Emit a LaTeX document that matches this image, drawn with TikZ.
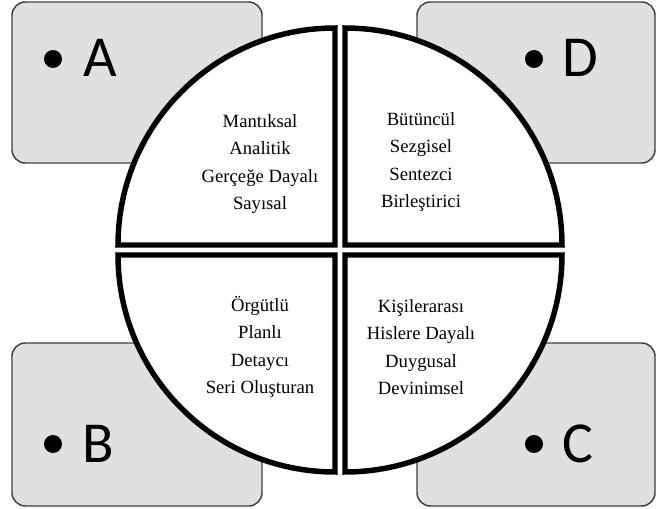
\documentclass[tikz,border=0pt]{standalone}
\usepackage{fontspec}
\setmainfont{Liberation Serif}
\newfontfamily\letterfont{Carlito}
\definecolor{boxgray}{RGB}{224,224,224}
\definecolor{boxline}{RGB}{64,64,64}
\tikzset{
  cornerbox/.style={fill=boxgray,draw=boxline,line width=1.1pt,rounded corners=10pt},
  quarter/.style={fill=white,draw=black,line width=4.1pt,line join=miter},
  traits/.style={align=center,inner sep=0pt,font=\fontsize{14}{20.6}\selectfont},
  letter/.style={anchor=base west,inner sep=0pt,font=\letterfont\fontsize{43.5}{50}\selectfont},
  bullet/.style={circle,fill=black,inner sep=0pt,minimum size=13.5pt}
}
\def\qr{162.75pt}
\begin{document}
\begin{tikzpicture}[x=0.75pt,y=0.75pt,line cap=round]
  \useasboundingbox (0,0) rectangle (657,508);
  \fill[white] (0,0) rectangle (657,508);
  % corner boxes
  \draw[cornerbox] (12,345) rectangle (262,506);
  \draw[cornerbox] (417,345) rectangle (655,506);
  \draw[cornerbox] (12,2) rectangle (262,165);
  \draw[cornerbox] (417,2) rectangle (655,165);
  % the four quarters
  \draw[quarter] (335,263) -- ++(-217,0) arc[start angle=180,end angle=90,radius=\qr] -- cycle;
  \draw[quarter] (345,263) -- ++(0,217) arc[start angle=90,end angle=0,radius=\qr] -- cycle;
  \draw[quarter] (335,253) -- ++(0,-217) arc[start angle=270,end angle=180,radius=\qr] -- cycle;
  \draw[quarter] (345,253) -- ++(217,0) arc[start angle=0,end angle=-90,radius=\qr] -- cycle;
  \node[traits] (textA) at (260,344) {Mantıksal\\Analitik\\Gerçeğe Dayalı\\Sayısal};
  \node[traits] (textD) at (421,346) {Bütüncül\\Sezgisel\\Sentezci\\Birleştirici};
  \node[traits] (textB) at (260,161) {Örgütlü\\Planlı\\Detaycı\\Seri Oluşturan};
  \node[traits] (textC) at (421,161) {Kişilerarası\\Hislere Dayalı\\Duygusal\\Devinimsel};
  % letters
  \node[bullet] (dotA) at (53,449) {};
  \node[letter] (labA) at (83,431) {A};
  \node[bullet] (dotD) at (534,449) {};
  \node[letter] (labD) at (562,431) {D};
  \node[bullet] (dotB) at (53,64) {};
  \node[letter] (labB) at (82,46) {B};
  \node[bullet] (dotC) at (534,64) {};
  \node[letter] (labC) at (562,46) {C};
\end{tikzpicture}
\end{document}
